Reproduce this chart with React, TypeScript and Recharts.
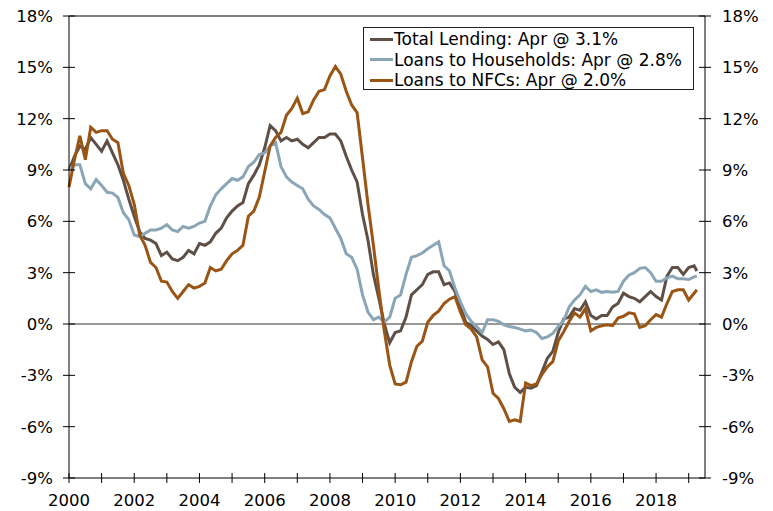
import React from 'react';
import { LineChart, Line, XAxis, YAxis, ReferenceLine, Legend } from 'recharts';

// Bi-monthly observations from Jan 2000, plus the final Apr 2019 reading
const dates: number[] = [];
for (let m = 0; m <= 230; m += 2) dates.push(2000 + m / 12);
dates.push(2019 + 3 / 12);

const totalLending = [
  9.0, 9.8, 10.4, 10.2, 10.9, 10.5, 10.1, 10.7, 10.0, 9.3,
  8.4, 7.3, 6.3, 5.4, 5.0, 4.9, 4.7, 4.0, 4.2, 3.8,
  3.7, 3.9, 4.3, 4.1, 4.7, 4.6, 4.8, 5.3, 5.6, 6.2,
  6.6, 6.9, 7.1, 8.2, 8.7, 9.3, 10.3, 11.6, 11.3, 10.7,
  10.9, 10.7, 10.8, 10.5, 10.3, 10.6, 10.9, 10.9, 11.1, 11.1,
  10.7, 9.8, 9.0, 8.3, 6.4, 4.9, 2.9, 1.5, 0.0, -1.1,
  -0.5, -0.4, 0.4, 1.7, 2.0, 2.3, 2.9, 3.05, 3.05, 2.3,
  2.4, 1.9, 1.0, 0.1, -0.1, -0.4, -0.7, -0.9, -1.2, -1.05,
  -1.5, -2.9, -3.7, -4.0, -3.7, -3.75, -3.6, -2.8, -2.0, -1.6,
  -0.5, 0.3, 0.4, 0.9, 0.8, 1.3, 0.5, 0.3, 0.5, 0.5,
  1.0, 1.2, 1.8, 1.6, 1.5, 1.3, 1.6, 1.9, 1.6, 1.4,
  2.8, 3.3, 3.3, 2.9, 3.3, 3.4, 3.1,
];

const households = [
  9.0, 9.3, 9.3, 8.2, 7.9, 8.45, 8.1, 7.7, 7.65, 7.4,
  6.5, 6.1, 5.2, 5.1, 5.3, 5.5, 5.5, 5.6, 5.8, 5.5,
  5.4, 5.7, 5.6, 5.7, 5.9, 6.0, 6.9, 7.55, 7.9, 8.2,
  8.5, 8.4, 8.6, 9.2, 9.45, 9.9, 10.0, 10.4, 10.6, 9.2,
  8.6, 8.3, 8.1, 7.9, 7.3, 6.9, 6.7, 6.4, 6.2, 5.6,
  5.0, 4.1, 3.9, 3.2, 1.7, 0.7, 0.25, 0.4, 0.1, 0.4,
  1.5, 1.7, 2.9, 3.9, 4.0, 4.15, 4.4, 4.6, 4.8, 3.4,
  3.1, 2.1, 1.3, 0.6, 0.15, -0.15, -0.5, 0.25, 0.25, 0.15,
  -0.05, -0.15, -0.2, -0.3, -0.4, -0.35, -0.5, -0.85, -0.75, -0.55,
  -0.15, 0.2, 1.0, 1.4, 1.7, 2.2, 1.9, 2.0, 1.85, 1.9,
  1.85, 1.9, 2.5, 2.85, 3.0, 3.25, 3.3, 3.0, 2.5, 2.5,
  2.7, 2.8, 2.65, 2.65, 2.6, 2.75, 2.8,
];

const nfcs = [
  8.0, 9.6, 11.0, 9.6, 11.5, 11.2, 11.3, 11.3, 10.8, 10.6,
  8.8, 8.1, 7.0, 5.2, 4.6, 3.6, 3.3, 2.5, 2.45, 1.9,
  1.5, 1.9, 2.3, 2.1, 2.2, 2.4, 3.3, 3.1, 3.2, 3.7,
  4.1, 4.3, 4.6, 6.3, 6.6, 7.4, 8.9, 10.4, 10.9, 11.2,
  12.2, 12.6, 13.2, 12.3, 12.4, 13.1, 13.6, 13.7, 14.5, 15.05,
  14.6, 13.6, 12.8, 12.35, 9.7, 7.0, 4.6, 2.0, -0.4, -2.4,
  -3.5, -3.55, -3.4, -2.2, -1.3, -1.0, 0.1, 0.5, 0.75, 1.2,
  1.45, 1.6, 0.7, -0.05, -0.3, -0.75, -2.1, -2.5, -4.05, -4.35,
  -4.95, -5.7, -5.6, -5.7, -3.45, -3.6, -3.5, -2.95, -2.5, -2.2,
  -1.0, -0.45, 0.15, 0.65, 0.4, 0.9, -0.4, -0.2, -0.1, -0.05,
  -0.1, 0.35, 0.45, 0.65, 0.6, -0.2, -0.1, 0.25, 0.55, 0.4,
  1.2, 1.9, 2.0, 2.0, 1.4, 1.8, 2.0,
];

const seriesNames = [
  'Total Lending: Apr @ 3.1%',
  'Loans to Households: Apr @ 2.8%',
  'Loans to NFCs: Apr @ 2.0%',
];
const seriesColors = ['#5e5046', '#8aa6b6', '#9a5414'];

const yTicks = [-9, -6, -3, 0, 3, 6, 9, 12, 15, 18];
const xTicks = [
  2000, 2001, 2002, 2003, 2004, 2005, 2006, 2007, 2008, 2009,
  2010, 2011, 2012, 2013, 2014, 2015, 2016, 2017, 2018, 2019,
];
const xLabelYears = [2000, 2002, 2004, 2006, 2008, 2010, 2012, 2014, 2016, 2018];

const data = dates.map((t, i) => ({
  t,
  total: totalLending[i],
  households: households[i],
  nfc: nfcs[i],
}));

const FONT = '"DejaVu Sans", Verdana, sans-serif';
const AXIS_FS = 16.5;

const LeftTick = (props: any) => {
  const { x, y, payload } = props;
  return (
    <g>
      <line x1={x - 6} x2={x + 6} y1={y} y2={y} stroke="#000" strokeWidth={1} />
      <text x={x - 16} y={y} dy="0.36em" textAnchor="end" fontFamily={FONT} fontSize={AXIS_FS} fill="#000">
        {`${payload.value}%`}
      </text>
    </g>
  );
};

const RightTick = (props: any) => {
  const { x, y, payload } = props;
  return (
    <g>
      <line x1={x - 6} x2={x + 6} y1={y} y2={y} stroke="#000" strokeWidth={1} />
      <text x={x + 17} y={y} dy="0.36em" textAnchor="start" fontFamily={FONT} fontSize={AXIS_FS} fill="#000">
        {`${payload.value}%`}
      </text>
    </g>
  );
};

const BottomTick = (props: any) => {
  const { x, y, payload } = props;
  const showLabel = xLabelYears.includes(payload.value);
  return (
    <g>
      <line x1={x} x2={x} y1={y - 5} y2={y + 5} stroke="#000" strokeWidth={1} />
      {showLabel && (
        <text x={x} y={y + 28} textAnchor="middle" fontFamily={FONT} fontSize={AXIS_FS} fill="#000">
          {payload.value}
        </text>
      )}
    </g>
  );
};

const LegendBox = () => (
  <div
    style={{
      boxSizing: 'border-box',
      width: 331,
      height: 63,
      border: '1px solid #222',
      background: '#fff',
      padding: '1px 0 0 6px',
      fontFamily: FONT,
      fontSize: 17,
      color: '#000',
    }}
  >
    {seriesNames.map((name, i) => (
      <div key={name} style={{ height: 20.5, lineHeight: '20px', whiteSpace: 'nowrap', display: 'flex', alignItems: 'center' }}>
        <span style={{ display: 'inline-block', width: 23, height: 3, background: seriesColors[i], marginRight: 1 }} />
        <span>{name}</span>
      </div>
    ))}
  </div>
);

export default function App() {
  return (
    <div style={{ position: 'absolute', left: 0, top: 0 }}>
      <LineChart width={773} height={511} data={data} margin={{ top: 16, right: 67, bottom: 32, left: 68 }}>
        <XAxis
          dataKey="t"
          type="number"
          domain={[2000, 2019.5]}
          ticks={xTicks}
          interval={0}
          height={1}
          tickSize={0}
          tickMargin={0}
          tickLine={false}
          axisLine={{ stroke: '#000', strokeWidth: 1 }}
          tick={<BottomTick />}
        />
        <YAxis
          yAxisId="left"
          orientation="left"
          domain={[-9, 18]}
          ticks={yTicks}
          interval={0}
          width={1}
          tickSize={0}
          tickMargin={0}
          tickLine={false}
          axisLine={{ stroke: '#000', strokeWidth: 1 }}
          tick={<LeftTick />}
          allowDataOverflow
        />
        <YAxis
          yAxisId="right"
          orientation="right"
          domain={[-9, 18]}
          ticks={yTicks}
          interval={0}
          width={1}
          tickSize={0}
          tickMargin={0}
          tickLine={false}
          axisLine={{ stroke: '#000', strokeWidth: 1 }}
          tick={<RightTick />}
          allowDataOverflow
        />
        <ReferenceLine yAxisId="left" y={18} stroke="#000" strokeWidth={1} />
        <ReferenceLine yAxisId="left" y={0} stroke="#333" strokeWidth={1} />
        <Legend
          layout="vertical"
          align="center"
          verticalAlign="middle"
          wrapperStyle={{ left: 363, top: 27, width: 331, height: 63 }}
          content={<LegendBox />}
        />
        <Line yAxisId="left" type="linear" dataKey="total" name={seriesNames[0]} stroke={seriesColors[0]} strokeWidth={3} dot={false} isAnimationActive={false} />
        <Line yAxisId="left" type="linear" dataKey="households" name={seriesNames[1]} stroke={seriesColors[1]} strokeWidth={3} dot={false} isAnimationActive={false} />
        <Line yAxisId="left" type="linear" dataKey="nfc" name={seriesNames[2]} stroke={seriesColors[2]} strokeWidth={3} dot={false} isAnimationActive={false} />
      </LineChart>
    </div>
  );
}
